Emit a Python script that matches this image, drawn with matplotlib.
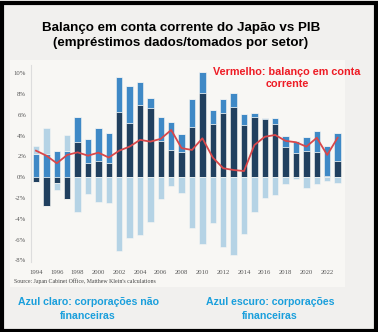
import matplotlib
matplotlib.use("Agg")
import matplotlib.pyplot as plt
from matplotlib.patches import Rectangle
import numpy as np

years = list(range(1994, 2024))
financial = [-0.42, -2.8, -0.58, -2.08, 3.4, 1.38, 1.54, 1.38, 6.28, 5.26,
             6.92, 6.63, 3.53, 2.66, 2.47, 4.8, 8.08, 5.1, 6.15, 6.76,
             5.0, 5.77, 5.58, 5.1, 2.95, 2.3, 2.53, 2.47, 0.16, 1.6]
other = [2.2, 2.2, 2.5, 2.56, 2.37, 2.31, 3.24, 2.92, 3.32, 3.49,
         2.28, 0.97, 2.24, 2.69, 1.66, 2.7, 2.08, 1.37, 1.35, 1.38,
         1.1, 0.45, 0.16, 0.64, 1.05, 1.23, 1.32, 1.95, 2.89, 2.66]
nonfinancial = [0.8, 2.5, -0.64, 1.54, -3.37, -1.6, -2.34, -2.44, -7.08, -5.8,
                -5.55, -4.26, -2.1, -0.83, -1.47, -4.9, -6.4, -4.42, -6.67, -7.47,
                -5.45, -3.3, -2.02, -1.73, -0.64, -0.19, -1.0, -0.67, -0.38, -0.58]
current_account = [2.56, 2.08, 1.35, 2.15, 2.4, 2.08, 2.37, 1.9, 2.56, 2.95,
                   3.6, 3.43, 3.7, 4.55, 2.8, 2.63, 3.75, 1.9, 0.87, 0.7,
                   0.6, 3.1, 3.9, 4.07, 3.5, 3.37, 2.95, 3.8, 2.15, 3.8]
ytick_vals = [-8, -6, -4, -2, 0, 2, 4, 6, 8, 10]
xtick_vals = list(range(1994, 2023, 2))

W, H = 378, 332
fig = plt.figure(figsize=(W / 100, H / 100), dpi=100)
fig.patch.set_facecolor("#f1f0ee")

# inner chart image background
fig.add_artist(Rectangle((10 / W, 1 - 287 / H), 335 / W, 227 / H,
                         transform=fig.transFigure, facecolor="#f8f7f4",
                         edgecolor="none", zorder=0))
# black frame
fig.add_artist(Rectangle((1.5 / W, 1.5 / H), (W - 4) / W, (H - 4) / H,
                         transform=fig.transFigure, facecolor="none",
                         edgecolor="black", linewidth=3, zorder=10))

ax = fig.add_axes([31 / W, 1 - 261.5 / H, (345.4 - 31) / W, (261.5 - 65) / H])
ax.set_facecolor("none")

c_dark = "#21405f"
c_mid = "#3f89c6"
c_light = "#b5d3e5"
edge = "#f8f7f4"
bw = 0.62

x = np.array(years, dtype=float)
fin = np.array(financial)
oth = np.array(other)
nf = np.array(nonfinancial)

pos_base = np.zeros(len(x))
neg_base = np.zeros(len(x))
for vals, col in [(fin, c_dark), (oth, c_mid), (nf, c_light)]:
    pos = np.where(vals > 0, vals, 0)
    neg = np.where(vals < 0, vals, 0)
    ax.bar(x, pos, bottom=pos_base, width=bw, color=col, edgecolor=edge, linewidth=0.4, zorder=2)
    ax.bar(x, neg, bottom=neg_base, width=bw, color=col, edgecolor=edge, linewidth=0.4, zorder=2)
    pos_base += pos
    neg_base += neg

ax.plot(x, current_account, color="#d9474a", linewidth=1.3, zorder=3)

ax.set_xlim(1993.52, 2023.75)
ax.set_ylim(-8.1, 10.8)
for s in ["top", "right", "bottom"]:
    ax.spines[s].set_visible(False)
ax.spines["left"].set_color("#dddddd")
ax.spines["left"].set_linewidth(0.8)

ax.set_yticks(ytick_vals)
ax.set_yticklabels([f"{v}%" for v in ytick_vals], family="Liberation Serif",
                   fontsize=4.8, color="#555555")
ax.set_xticks(xtick_vals)
ax.set_xticklabels([str(v) for v in xtick_vals], family="Liberation Serif",
                   fontsize=4.8, color="#555555")
ax.tick_params(axis="y", length=0, pad=3.5)
ax.tick_params(axis="x", length=0, pad=6)

fig.text(14 / W, 1 - 281 / H, "Source: Japan Cabinet Office, Matthew Klein's calculations",
         family="Liberation Serif", fontsize=4.2, color="#444444", va="center", ha="left")

title_kw = dict(family="Liberation Sans", weight="bold", fontsize=9.6, ha="center",
                va="center", color="black")
fig.text(181 / W, 1 - 28 / H, "Balanço em conta corrente do Japão vs PIB", **title_kw)
fig.text(181 / W, 1 - 43 / H, "(empréstimos dados/tomados por setor)", **title_kw)

red_kw = dict(family="Liberation Sans", weight="bold", fontsize=7.8, ha="center",
              va="center", color="#ee1c25", zorder=5)
fig.text(287 / W, 1 - 72 / H, "Vermelho: balanço em conta", **red_kw)
fig.text(287 / W, 1 - 84 / H, "corrente", **red_kw)

blue_kw = dict(family="Liberation Sans", weight="bold", fontsize=7.6, ha="center",
               va="center", color="#1a9fdc")
fig.text(88 / W, 1 - 302 / H, "Azul claro: corporações não", **blue_kw)
fig.text(88 / W, 1 - 316 / H, "financeiras", **blue_kw)
fig.text(270 / W, 1 - 302 / H, "Azul escuro: corporações", **blue_kw)
fig.text(270 / W, 1 - 316 / H, "financeiras", **blue_kw)

fig.savefig("out.png", dpi=100, facecolor=fig.get_facecolor())
